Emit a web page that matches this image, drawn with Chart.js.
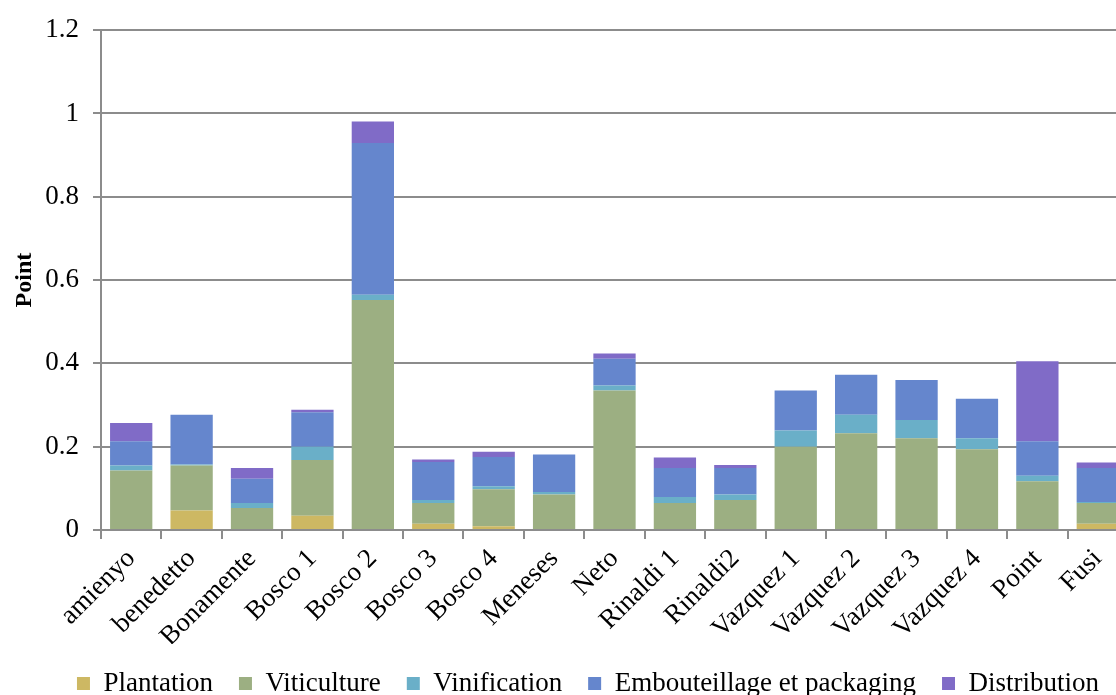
<!DOCTYPE html>
<html>
<head>
<meta charset="utf-8">
<title>Point par étape</title>
<script src="https://cdn.jsdelivr.net/npm/chart.js@4/dist/chart.umd.min.js"></script>
<style>
  html, body { margin: 0; padding: 0; background: #fff; overflow: hidden; }
  #wrap { width: 1170px; height: 695px; }
</style>
</head>
<body>
<div id="wrap"><canvas id="chart" width="1170" height="695"></canvas></div>
<script>
const categories = ['amienyo', 'benedetto', 'Bonamente', 'Bosco 1', 'Bosco 2', 'Bosco 3', 'Bosco 4',
  'Meneses', 'Neto', 'Rinaldi 1', 'Rinaldi2', 'Vazquez 1', 'Vazquez 2', 'Vazquez 3', 'Vazquez 4', 'Point', 'Fusi'];

const plantation   = [0, 0.047, 0, 0.034, 0, 0.015, 0.009, 0, 0, 0, 0, 0, 0, 0, 0, 0, 0.015];
const viticulture  = [0.143, 0.108, 0.053, 0.134, 0.552, 0.050, 0.089, 0.085, 0.335, 0.065, 0.072, 0.200, 0.232, 0.220, 0.194, 0.117, 0.050];
const vinification = [0.012, 0.002, 0.012, 0.032, 0.013, 0.007, 0.007, 0.006, 0.012, 0.014, 0.013, 0.039, 0.045, 0.044, 0.026, 0.013, 0.002];
const embouteillage = [0.058, 0.120, 0.058, 0.083, 0.364, 0.091, 0.070, 0.090, 0.064, 0.070, 0.064, 0.096, 0.096, 0.096, 0.095, 0.083, 0.082];
const distribution = [0.044, 0, 0.026, 0.006, 0.052, 0.006, 0.013, 0, 0.013, 0.025, 0.007, 0, 0, 0, 0, 0.192, 0.013];

const yTicks = [0, 0.2, 0.4, 0.6, 0.8, 1, 1.2];
const yTickLabels = ['0', '0.2', '0.4', '0.6', '0.8', '1', '1.2'];

const serif = "'Liberation Serif', 'Times New Roman', serif";
const gridGray = '#8c8c8c';

const series = [
  { label: 'Plantation', data: plantation, color: '#cdb863' },
  { label: 'Viticulture', data: viticulture, color: '#9caf82' },
  { label: 'Vinification', data: vinification, color: '#6aafc8' },
  { label: 'Embouteillage et packaging', data: embouteillage, color: '#6586cd' },
  { label: 'Distribution', data: distribution, color: '#806bc7' }
];

// nudge the legend right, it sits a bit off centre in the original
const legendShift = {
  id: 'legendShift',
  afterLayout(chart) {
    chart.legend.left += 24;
    chart.legend.right += 24;
  }
};

new Chart(document.getElementById('chart').getContext('2d'), {
  type: 'bar',
  data: {
    labels: categories,
    datasets: series.map(s => ({
      label: s.label,
      data: s.data,
      backgroundColor: s.color,
      borderWidth: 0,
      categoryPercentage: 1,
      barPercentage: 0.7
    }))
  },
  plugins: [legendShift],
  options: {
    responsive: false,
    devicePixelRatio: 1,
    animation: false,
    // plot runs past the right edge of the window, like the original
    layout: { padding: { left: 0, right: 42, top: 18, bottom: -12 } },
    plugins: {
      tooltip: { enabled: false },
      legend: {
        position: 'bottom',
        labels: {
          font: { family: serif, size: 27 },
          color: '#000',
          boxWidth: 13,
          boxHeight: 13,
          padding: 26
        }
      }
    },
    scales: {
      x: {
        stacked: true,
        afterFit: scale => { scale.height = 114; },
        grid: { drawOnChartArea: false, drawTicks: true, tickLength: 9, color: gridGray, lineWidth: 2 },
        border: { display: true, color: gridGray, width: 2 },
        ticks: {
          font: { family: serif, size: 27 },
          color: '#000',
          minRotation: 45,
          maxRotation: 45,
          autoSkip: false,
          padding: 4
        }
      },
      y: {
        stacked: true,
        min: 0,
        max: 1.2,
        afterFit: scale => { scale.width = 101; },
        afterBuildTicks: scale => { scale.ticks = yTicks.map(v => ({ value: v })); },
        grid: { color: gridGray, lineWidth: 2, tickLength: 8, drawTicks: true },
        border: { display: true, color: gridGray, width: 2 },
        ticks: {
          font: { family: serif, size: 27 },
          color: '#000',
          padding: 14,
          callback: (value, index) => yTickLabels[index]
        },
        title: {
          display: true,
          text: 'Point',
          font: { family: serif, size: 24, weight: 'bold' },
          color: '#000',
          padding: { top: 10, bottom: 6 }
        }
      }
    }
  }
});
</script>
</body>
</html>
